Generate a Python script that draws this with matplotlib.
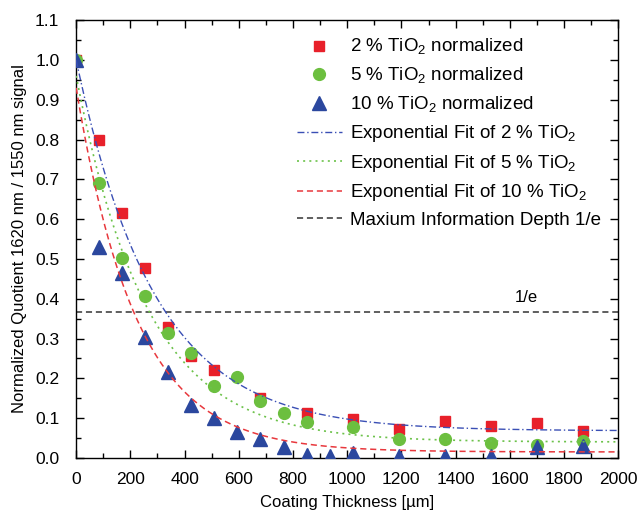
# Normalized quotient vs coating thickness for three TiO2 loadings,
# with exponential fits and the 1/e information depth line.

import numpy as np
import matplotlib
matplotlib.use('Agg')
import matplotlib.pyplot as plt
from matplotlib.ticker import MultipleLocator

plt.rcParams['font.family'] = ['Liberation Sans', 'DejaVu Sans']
plt.rcParams['mathtext.fontset'] = 'custom'
plt.rcParams['mathtext.rm'] = 'Liberation Sans'

# Measured points (thickness in um, normalized quotient).
x_2 = [0, 85, 170, 255, 340, 425, 510, 680, 850, 1020, 1190, 1360, 1530, 1700, 1870]
y_2 = [1.0, 0.80, 0.615, 0.477, 0.33, 0.257, 0.22, 0.15, 0.113, 0.099, 0.072,
       0.092, 0.080, 0.088, 0.067]

x_5 = [0, 85, 170, 255, 340, 425, 510, 595, 680, 765, 850, 1020, 1190, 1360,
       1530, 1700, 1870]
y_5 = [1.0, 0.69, 0.503, 0.408, 0.315, 0.264, 0.18, 0.203, 0.142, 0.113, 0.09,
       0.078, 0.047, 0.047, 0.038, 0.033, 0.042]

x_10 = [0, 85, 170, 255, 340, 425, 510, 595, 680, 765, 850, 935, 1020, 1190,
        1360, 1530, 1700, 1870]
y_10 = [1.0, 0.53, 0.465, 0.305, 0.215, 0.133, 0.10, 0.065, 0.048, 0.028, 0.008,
        0.005, 0.012, 0.004, 0.005, 0.004, 0.027, 0.03]

# Exponential fit parameters y = y0 + A*exp(-x/t).
fit_2 = (0.068, 0.932, 290.0)
fit_5 = (0.040, 0.920, 261.0)
fit_10 = (0.015, 0.915, 222.0)

info_depth = 1 / np.e

def expfit(x, p):
    y0, a, t = p
    return y0 + a * np.exp(-x / t)

xf = np.linspace(0, 2000, 400)

fig = plt.figure(figsize=(6.4, 5.18), dpi=100)
ax = fig.add_axes([0.119, 0.116, 0.847, 0.845])

ax.plot(x_2, y_2, 's', color='#e8202a', ms=7.5, mec='#e8202a',
        label='2 % TiO$_2$ normalized', zorder=3)
ax.plot(x_5, y_5, 'o', color='#6cbf3f', ms=8.5, mec='#6cbf3f',
        label='5 % TiO$_2$ normalized', zorder=3)
ax.plot(x_10, y_10, '^', color='#2b479e', ms=9.5, mec='#2b479e',
        label='10 % TiO$_2$ normalized', zorder=3)

ax.plot(xf, expfit(xf, fit_2), color='#3a4fb5', lw=1.0, dashes=(5, 2, 1, 2),
        label='Exponential Fit of 2 % TiO$_2$', zorder=4)
ax.plot(xf, expfit(xf, fit_5), color='#6cc24a', lw=1.2, dashes=(1.2, 2.5),
        label='Exponential Fit of 5 % TiO$_2$', zorder=4)
ax.plot(xf, expfit(xf, fit_10), color='#e8383d', lw=1.1, dashes=(4, 2.5),
        label='Exponential Fit of 10 % TiO$_2$', zorder=4)
ax.axhline(info_depth, color='#333333', lw=1.1, dashes=(4, 2.5),
           label='Maxium Information Depth 1/e', zorder=2)
ax.text(1620, info_depth + 0.017, '1/e', fontsize=12, va='bottom')

ax.set_xlim(0, 2000)
ax.set_ylim(0, 1.1)
ax.xaxis.set_major_locator(MultipleLocator(200))
ax.xaxis.set_minor_locator(MultipleLocator(100))
ax.yaxis.set_major_locator(MultipleLocator(0.1))
ax.yaxis.set_minor_locator(MultipleLocator(0.05))
ax.yaxis.set_major_formatter(matplotlib.ticker.FormatStrFormatter('%.1f'))
ax.tick_params(which='both', direction='in', top=True, right=True,
               labelsize=12.5, width=1.0)
ax.tick_params(axis='x', pad=10)
ax.tick_params(axis='y', pad=12)
ax.tick_params(which='major', length=6)
ax.tick_params(which='minor', length=3.5)
for s in ax.spines.values():
    s.set_linewidth(1.0)

ax.set_xlabel('Coating Thickness [\u00b5m]', fontsize=12, labelpad=6)
ax.set_ylabel('Normalized Quotient 1620 nm / 1550 nm signal', fontsize=12,
              labelpad=6)

ax.legend(loc='upper right', frameon=False, fontsize=13.5, labelspacing=0.45,
          handlelength=2.4, handletextpad=0.45, borderaxespad=0.6,
          borderpad=0.3)

fig.savefig('out.png', dpi=100)
